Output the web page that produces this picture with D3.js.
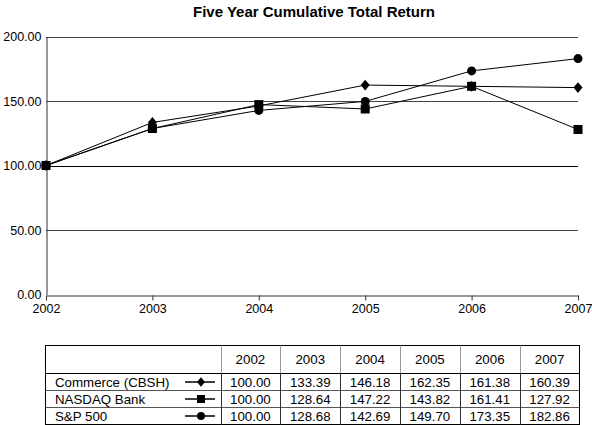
<!DOCTYPE html>
<html><head><meta charset="utf-8">
<script src="https://cdn.jsdelivr.net/npm/d3@7"></script>
<style>
body{margin:0;background:#fff;}
svg{display:block;font-family:"Liberation Sans",Arial,Helvetica,sans-serif;}
</style></head>
<body>
<svg id="chart" width="592" height="425"></svg>
<script>
const years = ["2002","2003","2004","2005","2006","2007"];
const seriesNames = ["Commerce (CBSH)","NASDAQ Bank","S&P 500"];
const commerce = [100.00,133.39,146.18,162.35,161.38,160.39];
const nasdaqBank = [100.00,128.64,147.22,143.82,161.41,127.92];
const sp500 = [100.00,128.68,142.69,149.70,173.35,182.86];
const yTicks = [0,50,100,150,200];
const markerTypes = ["diamond","square","circle"];
const title = "Five Year Cumulative Total Return";

const seriesData = [commerce, nasdaqBank, sp500];
const svg = d3.select("#chart");

const x = d3.scalePoint().domain(years).range([46, 578]);
const y = d3.scaleLinear().domain([0,200]).range([294.5, 36.5]);

svg.append("text").attr("x",314).attr("y",17).attr("text-anchor","middle")
  .attr("font-weight","bold").attr("font-size","15px").text(title);

// gridlines
svg.append("g").selectAll("line").data(yTicks.filter(d=>d>0)).join("line")
  .attr("x1",46).attr("x2",578)
  .attr("y1",d=>Math.round(y(d))+0.5).attr("y2",d=>Math.round(y(d))+0.5)
  .attr("stroke",d=>d===100?"#000":"#444").attr("stroke-width",1);

// y axis
const yAxis = d3.axisLeft(y).tickValues(yTicks).tickSize(0).tickPadding(5).tickFormat(d3.format(".2f"));
const gy = svg.append("g").attr("transform","translate(46.5,0)").call(yAxis);
gy.select(".domain").attr("stroke","#333");
gy.selectAll("text").attr("font-size","12.5px").attr("fill","#000").attr("font-family","Liberation Sans, Arial, sans-serif");

// x axis
const xAxis = d3.axisBottom(x).tickSize(5).tickPadding(4).tickSizeOuter(0);
const gx = svg.append("g").attr("transform","translate(0,"+(Math.round(y(0))+0.5)+")").call(xAxis);
gx.select(".domain").attr("stroke","#333");
gx.selectAll(".tick line").attr("stroke","#333");
gx.selectAll("text").attr("font-size","12.5px").attr("fill","#000").attr("font-family","Liberation Sans, Arial, sans-serif");

function marker(sel, type, size){
  if(type==="diamond") sel.append("path").attr("d",`M0,${-size*0.6}L${size*0.5},0L0,${size*0.6}L${-size*0.5},0Z`);
  else if(type==="square") sel.append("rect").attr("x",-size/2).attr("y",-size/2).attr("width",size).attr("height",size);
  else sel.append("circle").attr("r",size/2);
}

const line = d3.line().x((d,i)=>x(years[i])).y(d=>y(d));
seriesData.forEach((vals,si)=>{
  svg.append("path").datum(vals).attr("d",line).attr("fill","none").attr("stroke","#000").attr("stroke-width",1);
});
seriesData.forEach((vals,si)=>{
  vals.forEach((v,i)=>{
    const g = svg.append("g").attr("transform",`translate(${x(years[i])},${y(v)})`).attr("fill","#000");
    marker(g, markerTypes[si], 9);
  });
});

// table
const tLeft=45.5, tRight=579.5, tTop=345.5, headBottom=373.5, rowH=17;
const colStart=220.5;
const colX = d3.scaleBand().domain(years).range([colStart, tRight]);
const tbl = svg.append("g").attr("font-size","13.3px").attr("font-family","Liberation Sans, Arial, sans-serif");
const tBottom = headBottom + rowH*seriesNames.length;
tbl.append("rect").attr("x",tLeft).attr("y",tTop).attr("width",tRight-tLeft).attr("height",tBottom-tTop)
  .attr("fill","none").attr("stroke","#000");
tbl.append("line").attr("x1",tLeft).attr("x2",tRight).attr("y1",headBottom).attr("y2",headBottom).attr("stroke","#000");
seriesNames.slice(1).forEach((n,i)=>{
  const yy = headBottom + rowH*(i+1);
  tbl.append("line").attr("x1",tLeft).attr("x2",tRight).attr("y1",yy).attr("y2",yy).attr("stroke","#555");
});
years.forEach((yr,i)=>{
  const xx = Math.round(colX(yr))+0.5;
  tbl.append("line").attr("x1",xx).attr("x2",xx).attr("y1",tTop).attr("y2",headBottom).attr("stroke","#999");
  tbl.append("line").attr("x1",xx).attr("x2",xx).attr("y1",headBottom).attr("y2",tBottom).attr("stroke","#333");
  tbl.append("text").attr("x",colX(yr)+colX.bandwidth()/2).attr("y",(tTop+headBottom)/2+4.5)
    .attr("text-anchor","middle").text(yr);
});
seriesNames.forEach((name,si)=>{
  const cy = headBottom + rowH*si + rowH/2;
  tbl.append("text").attr("x",55).attr("y",cy+4.5).text(name);
  tbl.append("line").attr("x1",185).attr("x2",215).attr("y1",cy).attr("y2",cy).attr("stroke","#000").attr("stroke-width",1.5);
  const g = tbl.append("g").attr("transform",`translate(201,${cy})`).attr("fill","#000");
  marker(g, markerTypes[si], 8);
  seriesData[si].forEach((v,i)=>{
    tbl.append("text").attr("x",colX(years[i])+colX.bandwidth()/2).attr("y",cy+4.5)
      .attr("text-anchor","middle").text(d3.format(".2f")(v));
  });
});
</script>
</body></html>
